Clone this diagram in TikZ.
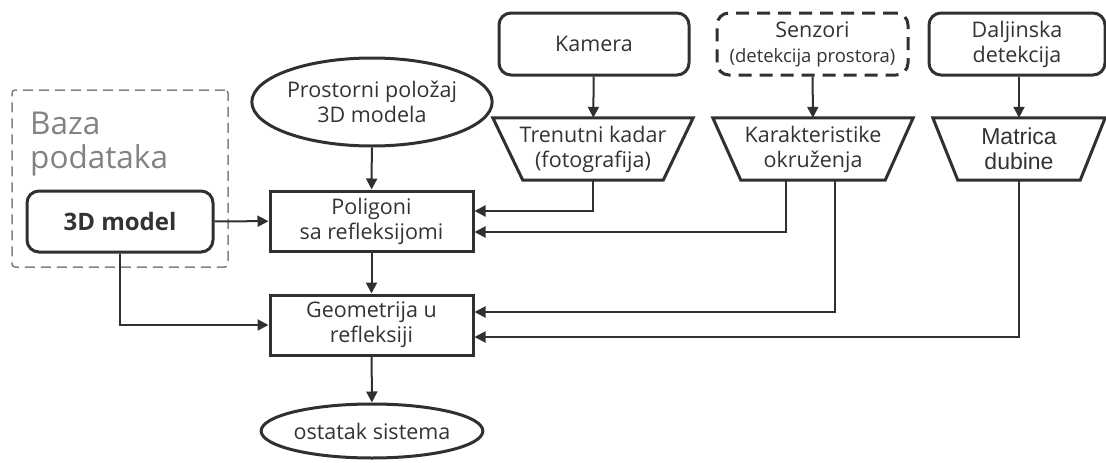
\documentclass[tikz,border=0pt]{standalone}
\usepackage{fontspec}
\setmainfont{Open Sans}
\newfontfamily\arialfont{Liberation Sans}
\usetikzlibrary{arrows.meta,shapes.geometric,calc}

\definecolor{ink}{HTML}{303030}
\definecolor{txt}{HTML}{333333}
\definecolor{dbgray}{HTML}{828282}

\begin{document}
\begin{tikzpicture}[x=1pt,y=-1pt,
  every node/.style={text=txt, font=\fontsize{21.5}{25}\selectfont, align=center, inner sep=0pt},
  rbox/.style={draw=ink, line width=3pt, rounded corners=12pt},
  sbox/.style={draw=ink, line width=3pt},
  oval/.style={draw=ink, line width=3pt, ellipse},
  trap/.style={minimum width=200pt, minimum height=62pt},
  trapline/.style={draw=ink, line width=3pt, line join=miter},
  link/.style={draw=ink, line width=2pt, -{Triangle[length=11pt,width=11pt]}},
]
\useasboundingbox (0,0) rectangle (1106,463);

% database group
\node[draw=dbgray, line width=1.5pt, dash pattern=on 10pt off 6pt, rounded corners=3pt,
      minimum width=216pt, minimum height=177pt] (baza) at (120,178.5) {};
\node[anchor=north west, align=left, text=dbgray, font=\fontsize{31.5}{34}\selectfont]
      (bazalabel) at (30,112) {Baza\\podataka};
\node[rbox, minimum width=186pt, minimum height=61pt,
      font=\bfseries\fontsize{24}{28}\selectfont] (model) at (120,221.5) {3D model};

% central column
\node[oval, minimum width=214pt, minimum height=88pt] (pos) at (372,102) {Prostorni položaj\\3D modela};
\node[sbox, minimum width=203pt, minimum height=60pt] (pol) at (371.5,221) {Poligoni\\sa refleksijomi};
\node[sbox, minimum width=203pt, minimum height=60pt] (geo) at (371.5,325) {Geometrija u\\refleksiji};
\node[oval, minimum width=220pt, minimum height=54pt] (rest) at (372,431) {ostatak sistema};

% inputs
\node[rbox, minimum width=190pt, minimum height=62pt] (cam) at (594,44) {Kamera};
\node[rbox, dash pattern=on 13pt off 8pt, minimum width=191pt, minimum height=62pt] (sen) at (812.5,44)
      {Senzori\\{\fontsize{18.5}{22}\selectfont (detekcija prostora)}};
\node[rbox, minimum width=176pt, minimum height=62pt] (dal) at (1017,44) {Daljinska\\detekcija};

% data produced from the inputs
\node[trap] (frame) at (593,149) {Trenutni kadar\\(fotografija)};
\node[trap] (env) at (813,149) {Karakteristike\\okruženja};
\node[trap, minimum width=172pt, font=\arialfont\fontsize{23}{25}\selectfont] (depth) at (1019,149) {Matrica\\dubine};
\foreach \n/\d in {frame/30, env/28, depth/25}
  \draw[trapline] (\n.north west) -- (\n.north east) -- ($(\n.south east)+(-\d,0)$)
                  -- ($(\n.south west)+(\d,0)$) -- cycle;

% connectors
\draw[link] (pos) -- (pol);
\draw[link] (model) -- (pol);
\draw[link] (cam) -- (frame);
\draw[link] (sen) -- (env);
\draw[link] (dal.south -| depth.north) -- (depth.north);
\draw[link] (frame.south) |- ($(pol.east)+(0,-10)$);
\draw[link] ($(env.south)+(-27,0)$) |- ($(pol.east)+(0,11)$);
\draw[link] ($(env.south)+(22,0)$) |- ($(geo.east)+(0,-13)$);
\draw[link] (depth.south) |- ($(geo.east)+(0,12)$);
\draw[link] (model.south) |- (geo.west);
\draw[link] (pol) -- (geo);
\draw[link] (geo) -- (rest);
\end{tikzpicture}
\end{document}
